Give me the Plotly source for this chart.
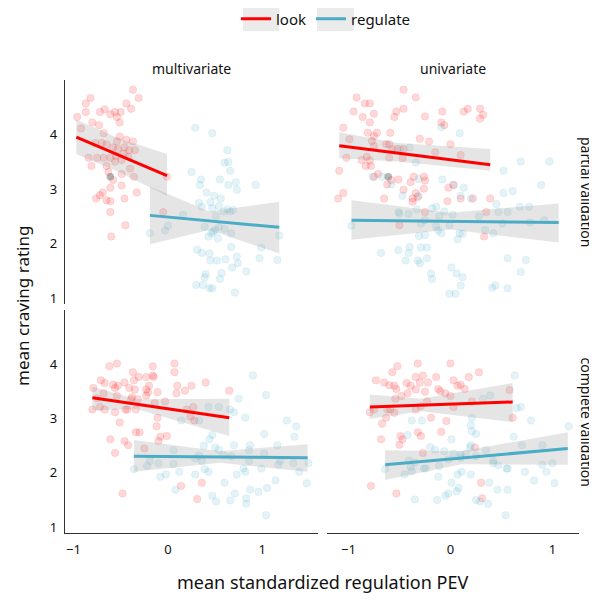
import plotly.graph_objects as go

# ---------------- data ----------------
conditions = ["look", "regulate"]
row_labels = ["partial validation", "complete validation"]
col_labels = ["multivariate", "univariate"]
x_ticks = [-1, 0, 1]
y_ticks = [1, 2, 3, 4]

# multivariate / partial validation
mp_look_x = [-0.37, -0.31, -0.82, -0.87, -0.44, -0.39, -0.87, -0.72, -0.67, -0.61, -0.56, -0.50, -0.54, -0.96,
             -0.80, -0.73, -0.51, -0.92, -0.68, -0.51, -0.44, -0.37, -0.77, -0.70, -0.65, -0.58, -0.53, -0.46,
             -0.41, -0.35, -0.84, -0.75, -0.68, -0.61, -0.55, -0.49, -0.42, -0.81, -0.65, -0.40, -0.63, -0.49,
             -0.36, -0.58, -0.49, -0.61, -0.69, -0.72, -0.76, -0.65, -0.61, -0.46, -0.33, -0.61, -0.05, -0.45,
             -0.60, -0.01, -0.54, -0.47, -0.56]
mp_look_y = [4.83, 4.68, 4.68, 4.58, 4.58, 4.48, 4.42, 4.42, 4.47, 4.38, 4.42, 4.42, 4.33, 4.33,
             4.23, 4.18, 4.23, 4.12, 4.03, 3.97, 3.91, 3.88, 3.85, 3.85, 3.83, 3.77, 3.74, 3.77,
             3.72, 3.72, 3.58, 3.58, 3.58, 3.58, 3.61, 3.54, 3.60, 3.43, 3.43, 3.38, 3.32, 3.28,
             3.23, 3.17, 3.07, 3.03, 2.94, 2.89, 2.83, 2.80, 2.78, 2.83, 2.94, 2.58, 2.58, 2.34,
             2.13, 3.23, 3.88, 3.66, 3.51]
mp_reg_x = [0.29, 0.47, 0.63, 0.60, 0.64, 0.66, 0.25, 0.35, 0.55, 0.34, 0.64, 0.72, 0.93, 0.41, 0.73, 0.49,
            0.56, 0.33, 0.45, 0.54, 0.47, 0.36, 0.63, 0.69, 0.59, 0.66, 0.51, 0.16, -0.19, 0.00, -0.03, 0.39,
            0.48, 0.46, 0.67, 0.99, 1.18, 0.60, 0.43, 0.53, 0.67, 0.31, 0.36, 0.44, 0.73, 0.52, 0.61, 0.45,
            0.97, 1.16, 0.74, 0.68, 0.83, 0.40, 0.57, 0.55, 0.39, 0.30, 0.37, 0.44, 0.47, 0.71, 0.54, 0.50]
mp_reg_y = [4.13, 4.03, 3.72, 3.49, 3.50, 3.34, 3.32, 3.18, 3.18, 3.08, 3.08, 3.13, 3.08, 2.94, 2.99, 2.88,
            2.83, 2.75, 2.76, 2.69, 2.65, 2.68, 2.63, 2.62, 2.59, 2.59, 2.51, 2.53, 2.19, 2.33, 2.24, 2.31,
            2.22, 2.19, 2.19, 1.93, 2.15, 2.27, 2.13, 2.10, 1.94, 1.89, 1.83, 1.82, 1.76, 1.69, 1.71, 1.69,
            1.73, 1.70, 1.64, 1.56, 1.49, 1.44, 1.46, 1.35, 1.38, 1.24, 1.24, 1.18, 1.18, 1.10, 2.31, 2.25]

# univariate / partial validation
up_look_x = [-0.46, -0.92, -0.84, -0.79, -0.34, -0.95, -0.75, -0.86, -0.79, -0.53, -0.46, -0.55, -0.25,
             -0.08, 0.13, 0.17, 0.29, 0.32, 0.29, -0.09, -0.06, -1.05, -0.81, -0.72, -0.59, -0.99, -0.77,
             -0.75, -0.63, -0.60, -0.75, -0.57, -0.52, -0.46, -0.30, -0.21, 0.00, -0.15, 0.10, -1.02, -0.87,
             -0.82, -0.79, -0.83, -0.78, -0.60, -0.47, -1.09, -0.71, -0.75, -0.58, -0.51, -0.62, -0.39, -0.36,
             -0.26, -0.25, -0.46, -0.26, 0.03, -0.02, -1.10, -1.05, -0.65, -0.37, -0.34, -0.32, -0.37, -0.03,
             0.10, 0.22, 0.39, -0.25, -0.50, 0.35, 0.33]
up_look_y = [4.83, 4.69, 4.58, 4.58, 4.69, 4.43, 4.39, 4.33, 4.23, 4.43, 4.48, 4.33, 4.34,
             4.43, 4.43, 4.48, 4.48, 4.37, 4.30, 4.23, 4.18, 4.13, 4.04, 4.04, 4.04, 3.92, 3.89,
             3.98, 3.83, 3.83, 3.79, 3.74, 3.74, 3.74, 3.93, 3.88, 3.83, 3.68, 3.63, 3.58, 3.54,
             3.60, 3.53, 3.43, 3.43, 3.58, 3.57, 3.34, 3.28, 3.23, 3.17, 3.18, 3.09, 3.13, 3.23,
             3.23, 3.16, 2.99, 3.01, 3.08, 3.03, 2.83, 2.93, 2.83, 2.83, 2.93, 2.86, 2.77, 2.78,
             2.83, 2.83, 2.83, 2.58, 2.34, 2.58, 2.13]
up_reg_x = [-0.09, 0.09, -0.34, -0.49, -0.40, 0.69, 0.97, 0.52, -0.67, -0.31, -0.08, -0.76, -0.58, 0.03,
            0.13, 0.61, 0.52, 0.89, -0.47, -0.31, 0.10, 0.20, 0.45, 0.68, -0.14, -0.18, -0.33, -0.51,
            -0.41, -0.50, -0.06, 0.02, -0.11, -0.25, 0.28, 0.47, 0.56, 0.77, -0.29, 0.51, 0.78, 0.92,
            -0.97, -0.12, -0.09, -0.25, -0.31, 0.09, 0.12, 0.07, 0.42, 0.34, -0.14, -0.01, -0.68, -0.51,
            -0.40, -0.41, -0.29, -0.23, -0.44, -0.32, -0.30, -0.23, 0.01, 0.06, 0.12, -0.19, -0.18, 0.56,
            0.74, 0.69, 0.10, 0.41, 0.44, 0.56, -0.01, 0.05]
up_reg_y = [4.14, 4.03, 3.49, 3.74, 3.77, 3.51, 3.51, 3.34, 3.23, 3.19, 3.18, 3.23, 3.09, 3.08,
            3.03, 2.97, 2.93, 3.08, 2.88, 2.88, 2.88, 2.83, 2.73, 2.68, 2.68, 2.65, 2.63, 2.58,
            2.55, 2.55, 2.59, 2.53, 2.50, 2.43, 2.50, 2.58, 2.58, 2.68, 2.37, 2.37, 2.39, 2.43,
            2.33, 2.24, 2.19, 2.16, 2.14, 2.19, 2.18, 2.08, 2.19, 2.25, 2.32, 2.34, 1.83, 1.88,
            1.94, 1.83, 1.93, 1.93, 1.69, 1.69, 1.64, 1.73, 1.56, 1.45, 1.38, 1.45, 1.35, 1.73,
            1.70, 1.48, 1.23, 1.19, 1.23, 1.18, 1.08, 1.08]

# multivariate / complete validation
mc_look_x = [-0.54, -0.62, 0.07, -0.37, 0.07, -0.16, -0.71, -0.67, -0.58, -0.53, -0.46, -0.36, -0.31, -0.23,
             -0.16, -0.15, -0.20, 0.10, 0.25, 0.40, -0.79, -0.56, -0.41, -0.35, -0.23, -0.21, -0.11, 0.09,
             0.18, 0.65, -0.68, -0.54, -0.38, -0.32, -0.39, -0.23, -0.80, -0.72, -0.67, -0.56, -0.45, -0.43,
             -0.34, -0.14, -0.03, 0.20, 0.27, 0.24, 0.28, -0.51, -0.11, -0.12, -0.34, -0.30, -0.61, -0.46,
             -0.42, -0.10, -0.08, -0.01, -0.56, -0.25, -0.48, 0.14, 0.36, 0.31, -0.75]
mc_look_y = [4.02, 3.97, 4.02, 3.86, 3.86, 3.97, 3.71, 3.66, 3.63, 3.61, 3.67, 3.71, 3.77, 3.77,
             3.80, 3.77, 3.61, 3.61, 3.61, 3.67, 3.57, 3.57, 3.57, 3.54, 3.54, 3.49, 3.49, 3.47,
             3.52, 3.52, 3.47, 3.42, 3.40, 3.36, 3.36, 3.43, 3.17, 3.22, 3.17, 3.12, 3.17, 3.17,
             3.17, 3.29, 3.32, 3.17, 3.22, 3.04, 2.97, 2.93, 3.02, 2.86, 2.75, 2.75, 2.62, 2.59,
             2.51, 2.59, 2.67, 2.68, 2.37, 2.45, 1.62, 1.76, 1.82, 1.52, 3.38]
mc_reg_x = [0.90, 1.04, 0.75, 0.66, 0.70, 0.43, 0.54, 0.14, 0.33, 0.82, 1.26, 1.36, 1.02, 0.47, 0.44, 0.38,
            0.50, 0.54, 0.70, 0.87, 0.86, 1.16, 1.34, 0.06, 0.33, 0.29, 0.36, 0.59, 0.67, 0.86, 1.02, 1.17,
            1.19, 1.33, 1.49, -0.36, -0.19, -0.22, -0.10, 0.06, 0.12, -0.02, -0.08, 0.29, 0.39, 0.43, 0.60,
            0.73, 0.80, 0.82, 0.99, 1.39, 1.47, 0.08, 0.47, 0.51, 0.66, 0.71, 0.83, 0.83, 0.87, 0.96, 1.05,
            1.14, 1.04]
mc_reg_y = [3.80, 3.44, 3.37, 3.17, 3.12, 3.22, 3.22, 2.97, 2.97, 3.02, 2.97, 2.86, 2.72, 2.70, 2.62, 2.50,
            2.47, 2.43, 2.51, 2.51, 2.42, 2.51, 2.67, 2.42, 2.32, 2.27, 2.22, 2.33, 2.31, 2.22, 2.36, 2.15,
            2.22, 2.18, 2.18, 2.07, 2.22, 2.13, 2.18, 2.16, 2.02, 1.97, 1.93, 1.97, 2.07, 2.02, 1.82,
            1.97, 2.08, 2.02, 2.08, 2.02, 1.81, 1.69, 1.58, 1.47, 1.49, 1.62, 1.53, 1.43, 1.69, 1.65, 1.72,
            1.86, 1.22]

# univariate / complete validation
uc_look_x = [-0.52, -0.32, 0.00, -0.57, -0.73, -0.65, -0.60, -0.55, -0.53, -0.43, -0.39, -0.34, -0.27, -0.30,
             -0.22, -0.14, -0.12, -0.10, 0.03, 0.07, 0.10, 0.14, 0.18, 0.28, -0.05, 0.00, -0.25, -0.48,
             -0.54, -0.42, -0.34, -0.75, -0.79, -0.62, -0.59, -0.63, -0.67, -0.68, -0.49, -0.47, -0.50, -0.32,
             -0.29, -0.23, -0.29, -0.34, -0.19, -0.04, 0.03, -0.09, 0.21, 0.58, 0.61, -0.27, 0.24, -0.78,
             -0.53, 0.30, 0.31, -0.55]
uc_look_y = [3.97, 4.02, 4.02, 3.86, 3.71, 3.67, 3.62, 3.61, 3.55, 3.66, 3.61, 3.77, 3.80, 3.67,
             3.67, 3.77, 3.55, 3.51, 3.71, 3.61, 3.63, 3.55, 3.77, 3.86, 3.47, 3.42, 3.50, 3.42,
             3.37, 3.47, 3.54, 3.17, 3.12, 3.17, 3.17, 3.02, 2.91, 2.62, 2.68, 2.62, 2.52, 2.75,
             2.68, 3.32, 3.23, 3.17, 3.02, 2.96, 3.22, 2.76, 3.32, 3.53, 3.02, 2.37, 2.47, 1.76,
             1.62, 1.82, 1.53, 3.11]
uc_reg_x = [0.63, 0.39, 0.32, 0.69, 0.65, 0.21, 0.79, -0.38, -0.28, 0.20, 0.21, 0.25, -0.42, 0.62, 0.01,
            0.20, 0.19, -0.20, -0.15, -0.06, 0.03, 0.10, 0.15, 0.35, 0.70, 0.90, 1.16, -0.41, -0.35, -0.39,
            -0.26, -0.11, -0.02, 0.10, 0.25, 0.42, 0.42, 0.47, 0.56, 0.55, 0.90, 1.00, -0.64, -0.45, -0.38,
            -0.24, -0.12, 0.07, 0.11, 0.20, 0.01, 0.38, 0.73, 0.82, 0.94, 1.02, -0.35, -0.13, -0.05, -0.02,
            0.06, 0.08, 0.25, 0.29, 0.37, 0.46, 0.56, 0.54]
uc_reg_y = [3.80, 3.43, 3.37, 3.22, 3.20, 3.02, 2.97, 2.97, 2.97, 2.88, 2.77, 2.72, 2.70, 2.67, 2.62,
            2.51, 2.47, 2.48, 2.43, 2.40, 2.36, 2.34, 2.35, 2.42, 2.51, 2.51, 2.86, 2.23, 2.19, 2.11,
            2.08, 2.13, 2.25, 2.28, 2.31, 2.23, 2.18, 2.14, 2.08, 2.08, 2.15, 2.18, 2.07, 1.97, 2.03,
            2.08, 1.93, 1.97, 2.02, 1.97, 1.82, 1.82, 2.02, 1.86, 2.02, 1.81, 1.51, 1.50, 1.58, 1.62,
            1.66, 1.72, 1.50, 1.47, 1.43, 1.69, 1.69, 1.22]

# observation without a condition label (shown in grey in the partial-validation row)
na_x = [-0.61]
na_y = [3.23]

# fitted lines with 95% confidence band (x, fit, lower, upper)
mp_look_fit = dict(x=[-0.97, -0.51, -0.01], fit=[3.96, 3.62, 3.25], lo=[3.65, 3.31, 2.88], hi=[4.28, 3.93, 3.65])
mp_reg_fit = dict(x=[-0.19, 0.44, 1.18], fit=[2.52, 2.42, 2.30], lo=[1.99, 2.25, 1.82], hi=[3.05, 2.59, 2.77])
up_look_fit = dict(x=[-1.09, -0.52, 0.39], fit=[3.80, 3.67, 3.45], lo=[3.57, 3.51, 3.34], hi=[4.05, 3.85, 3.74])
up_reg_fit = dict(x=[-0.97, 0.00, 1.06], fit=[2.43, 2.41, 2.39], lo=[2.07, 2.26, 2.02], hi=[2.80, 2.57, 2.74])
mc_look_fit = dict(x=[-0.80, -0.33, 0.65], fit=[3.39, 3.27, 3.02], lo=[3.16, 3.18, 2.68], hi=[3.59, 3.36, 3.37])
mc_reg_fit = dict(x=[-0.36, 0.55, 1.48], fit=[2.31, 2.30, 2.28], lo=[2.02, 2.19, 2.02], hi=[2.61, 2.40, 2.53])
uc_look_fit = dict(x=[-0.79, -0.29, 0.61], fit=[3.22, 3.25, 3.31], lo=[3.00, 3.14, 2.94], hi=[3.45, 3.37, 3.66])
uc_reg_fit = dict(x=[-0.64, 0.10, 1.15], fit=[2.15, 2.27, 2.45], lo=[1.87, 2.16, 2.15], hi=[2.42, 2.40, 2.75])

# ---------------- styling ----------------
FONT = "'Noto Sans', 'DejaVu Sans', sans-serif"
TXT = "#111111"
LOOK_COLOR = "#FF0000"
REG_COLOR = "#4BACC6"
LOOK_PT = "rgba(255,0,0,0.15)"
REG_PT = "rgba(75,172,198,0.15)"
LOOK_EDGE = "rgba(255,0,0,0.12)"
REG_EDGE = "rgba(75,172,198,0.12)"
BAND = "rgba(153,153,153,0.25)"
AXIS_COLOR = "#333333"

panels = [
    dict(xa="x", ya="y", look=(mp_look_x, mp_look_y), reg=(mp_reg_x, mp_reg_y),
         lf=mp_look_fit, rf=mp_reg_fit, na=True),
    dict(xa="x2", ya="y2", look=(up_look_x, up_look_y), reg=(up_reg_x, up_reg_y),
         lf=up_look_fit, rf=up_reg_fit, na=True),
    dict(xa="x3", ya="y3", look=(mc_look_x, mc_look_y), reg=(mc_reg_x, mc_reg_y),
         lf=mc_look_fit, rf=mc_reg_fit, na=False),
    dict(xa="x4", ya="y4", look=(uc_look_x, uc_look_y), reg=(uc_reg_x, uc_reg_y),
         lf=uc_look_fit, rf=uc_reg_fit, na=False),
]

fig = go.Figure()

def band_trace(f, xa, ya):
    return go.Scatter(x=f["x"] + f["x"][::-1], y=f["hi"] + f["lo"][::-1], fill="toself",
                      fillcolor=BAND, line=dict(width=0), mode="lines",
                      hoverinfo="skip", showlegend=False, xaxis=xa, yaxis=ya)

for i, p in enumerate(panels):
    xa, ya = p["xa"], p["ya"]
    fig.add_trace(go.Scatter(x=p["look"][0], y=p["look"][1], mode="markers",
                             marker=dict(size=7.5, color=LOOK_PT, line=dict(width=0.8, color=LOOK_EDGE)),
                             showlegend=False, legendgroup="look", xaxis=xa, yaxis=ya))
    fig.add_trace(go.Scatter(x=p["reg"][0], y=p["reg"][1], mode="markers",
                             marker=dict(size=7.5, color=REG_PT, line=dict(width=0.8, color=REG_EDGE)),
                             showlegend=False, legendgroup="regulate", xaxis=xa, yaxis=ya))
    if p["na"]:
        fig.add_trace(go.Scatter(x=na_x, y=na_y, mode="markers",
                                 marker=dict(size=7.5, color="rgba(110,110,110,0.5)", line=dict(width=0)),
                                 showlegend=False, xaxis=xa, yaxis=ya))
    fig.add_trace(band_trace(p["lf"], xa, ya))
    fig.add_trace(band_trace(p["rf"], xa, ya))
    fig.add_trace(go.Scatter(x=p["lf"]["x"], y=p["lf"]["fit"], mode="lines", name=conditions[0],
                             line=dict(color=LOOK_COLOR, width=3), legendgroup="look",
                             showlegend=(i == 0), xaxis=xa, yaxis=ya))
    fig.add_trace(go.Scatter(x=p["rf"]["x"], y=p["rf"]["fit"], mode="lines", name=conditions[1],
                             line=dict(color=REG_COLOR, width=3), legendgroup="regulate",
                             showlegend=(i == 0), xaxis=xa, yaxis=ya))

# The page body adds an 8px margin, so the figure is placed 8px in from the window edge.
OFF = 8
WIN_W, WIN_H = 597, 604
W, H = WIN_W - OFF, WIN_H - OFF
PLOT_L, PLOT_R, PLOT_T, PLOT_B = 65, 579, 80, 533          # plot area in window pixels
ML, MR, MT, MB = PLOT_L - OFF, WIN_W - PLOT_R, PLOT_T - OFF, WIN_H - PLOT_B
PW, PH = PLOT_R - PLOT_L, PLOT_B - PLOT_T

def px_x(px):
    return (px - PLOT_L) / PW

def px_y(py):
    return (PLOT_B - py) / PH

left_dom = [0, px_x(318)]
right_dom = [px_x(327), 1]
top_dom = [px_y(304), 1]
bot_dom = [0, px_y(310)]

x_left_range = [-1.09, 1.59]
x_right_range = [-1.21, 1.26]
y_range = [0.89, 5.01]

tickfont = dict(family=FONT, size=13, color=TXT)

def xaxis(dom, rng, anchor, show_labels, show_line):
    return dict(domain=dom, range=rng, anchor=anchor, tickvals=x_ticks,
                showticklabels=show_labels, showgrid=False, zeroline=False,
                showline=show_line, linecolor=AXIS_COLOR, linewidth=1.2,
                ticks="outside" if show_labels else "", ticklen=4, tickcolor="rgba(0,0,0,0)",
                tickfont=tickfont)

def yaxis(dom, anchor, show_labels, show_line):
    return dict(domain=dom, range=y_range, anchor=anchor, tickvals=y_ticks,
                showticklabels=show_labels, showgrid=False, zeroline=False,
                showline=show_line, linecolor=AXIS_COLOR, linewidth=1.2,
                ticks="outside" if show_labels else "", ticklen=4, tickcolor="rgba(0,0,0,0)",
                tickfont=tickfont)

strip_font = dict(family=FONT, size=14, color=TXT)
title_font = dict(family=FONT, size=18, color=TXT)
ytitle_font = dict(family=FONT, size=17, color=TXT)

def ann(text, x, y, font, angle=0):
    return dict(text=text, x=x, y=y, xref="paper", yref="paper", showarrow=False,
                xanchor="center", yanchor="middle", textangle=angle, font=font)

annotations = [
    ann(col_labels[0], sum(left_dom) / 2, px_y(68), strip_font),
    ann(col_labels[1], sum(right_dom) / 2, px_y(68), strip_font),
    ann(row_labels[0], px_x(586), sum(top_dom) / 2, strip_font, 90),
    ann(row_labels[1], px_x(586), sum(bot_dom) / 2, strip_font, 90),
    ann("mean craving rating", px_x(22), px_y(306), ytitle_font, -90),
    ann("mean standardized regulation PEV", px_x(322), px_y(582), title_font),
]

# grey key backgrounds behind the legend symbols
KEY_BG = "#EBEBEB"
shapes = [
    dict(type="rect", xref="paper", yref="paper", x0=px_x(243), x1=px_x(279), y0=px_y(31), y1=px_y(7),
         fillcolor=KEY_BG, line=dict(width=0), layer="below"),
    dict(type="rect", xref="paper", yref="paper", x0=px_x(317), x1=px_x(354), y0=px_y(31), y1=px_y(7),
         fillcolor=KEY_BG, line=dict(width=0), layer="below"),
]

fig.update_layout(
    width=W, height=H, margin=dict(l=ML, r=MR, t=MT, b=MB, autoexpand=False),
    paper_bgcolor="white", plot_bgcolor="rgba(0,0,0,0)",
    font=dict(family=FONT, color=TXT),
    xaxis=xaxis(left_dom, x_left_range, "y", False, False),
    yaxis=yaxis(top_dom, "x", True, True),
    xaxis2=xaxis(right_dom, x_right_range, "y2", False, False),
    yaxis2=yaxis(top_dom, "x2", False, False),
    xaxis3=xaxis(left_dom, x_left_range, "y3", True, True),
    yaxis3=yaxis(bot_dom, "x3", True, True),
    xaxis4=xaxis(right_dom, x_right_range, "y4", True, True),
    yaxis4=yaxis(bot_dom, "x4", False, False),
    legend=dict(orientation="h", x=px_x(236), y=px_y(19), xanchor="left", yanchor="middle",
                font=dict(family=FONT, size=15, color=TXT), bgcolor="rgba(0,0,0,0)",
                itemwidth=30),
    annotations=annotations,
    shapes=shapes,
    showlegend=True,
)

fig.write_html("out.html")
